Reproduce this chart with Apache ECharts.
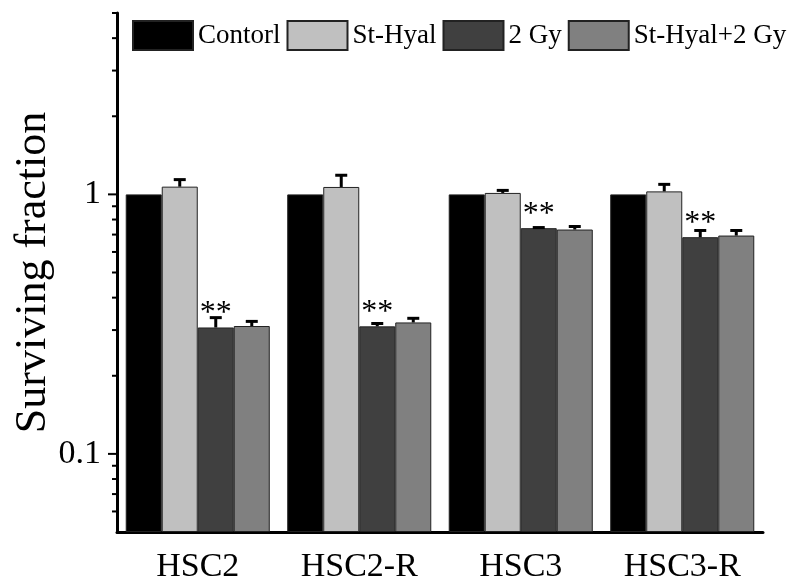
<!DOCTYPE html>
<html>
<head>
<meta charset="utf-8">
<script src="https://cdn.jsdelivr.net/npm/echarts@6/dist/echarts.min.js"></script>
<style>html,body{margin:0;padding:0;background:#fff}#c{width:791px;height:576px}</style>
</head>
<body>
<div id="c"></div>
<script>
const categories = ['HSC2', 'HSC2-R', 'HSC3', 'HSC3-R'];
const seriesNames = ['Contorl', 'St-Hyal', '2 Gy', 'St-Hyal+2 Gy'];
const control = [1, 1, 1, 1];
const stHyal = [1.071, 1.068, 1.013, 1.027];
const gy2 = [0.307, 0.310, 0.741, 0.684];
const stHyalGy2 = [0.311, 0.321, 0.732, 0.694];
const errControl = [0, 0, 0, 0];
const errStHyal = [0.069, 0.117, 0.023, 0.066];
const errGy2 = [0.028, 0.008, 0.004, 0.042];
const errStHyalGy2 = [0.013, 0.012, 0.020, 0.032];
const significance = ['**', '**', '**', '**'];
const yMajorTicks = [0.1, 1];
const yMinorTicks = [0.06, 0.07, 0.08, 0.09, 0.2, 0.3, 0.4, 0.5, 0.6, 0.7, 0.8, 0.9, 2, 3, 4, 5];
const yMin = 0.05, yMax = 5;

const FONT = "'Liberation Serif', 'Times New Roman', serif";
const colors = ['#000000', '#c0c0c0', '#404040', '#808080'];
const values = [control, stHyal, gy2, stHyalGy2];
const errors = [errControl, errStHyal, errGy2, errStHyalGy2];
const CAT_GAP = 0.108;

const errData = [];
values.forEach((arr, s) => arr.forEach((v, i) => {
  if (errors[s][i] > 0) errData.push([i, s, v, v + errors[s][i]]);
}));

const tickData = yMajorTicks.map(v => [0, v, 1]).concat(yMinorTicks.map(v => [0, v, 0]));

const barSeries = seriesNames.map((name, s) => ({
  name: name,
  type: 'bar',
  data: values[s],
  barGap: '0%',
  barCategoryGap: (CAT_GAP * 100) + '%',
  itemStyle: { color: colors[s], borderColor: '#222', borderWidth: 1 },
  label: s === 2 ? {
    show: true,
    position: 'top',
    distance: -2,
    formatter: p => significance[p.dataIndex],
    fontFamily: FONT,
    fontSize: 32,
    color: '#000'
  } : { show: false },
  z: 2
}));

const chart = echarts.init(document.getElementById('c'), null, { renderer: 'canvas' });
chart.setOption({
  animation: false,
  backgroundColor: '#fff',
  grid: { left: 117, right: 28, top: 13, bottom: 44, containLabel: false, outerBoundsMode: 'none' },
  legend: {
    data: seriesNames,
    left: 132,
    top: 20,
    right: 0,
    padding: 0,
    itemWidth: 60,
    itemHeight: 29,
    itemGap: 6,
    icon: 'rect',
    textStyle: { fontFamily: FONT, fontSize: 27, color: '#000' }
  },
  xAxis: {
    type: 'category',
    data: categories,
    axisLine: { lineStyle: { color: '#000', width: 3 } },
    axisTick: { alignWithLabel: true, length: 9, lineStyle: { color: '#000', width: 3 } },
    axisLabel: { fontFamily: FONT, fontSize: 34, color: '#000', margin: 18 },
    splitLine: { show: false }
  },
  yAxis: {
    type: 'log',
    logBase: 10,
    min: yMin,
    max: yMax,
    startValue: yMin,
    name: 'Surviving fraction',
    nameLocation: 'middle',
    nameGap: 62,
    nameMoveOverlap: false,
    nameTextStyle: { fontFamily: FONT, fontSize: 44, color: '#000' },
    axisLine: { show: true, lineStyle: { color: '#000', width: 3 } },
    axisTick: { show: false },
    splitLine: { show: false },
    minorTick: { show: false },
    axisLabel: {
      fontFamily: FONT, fontSize: 34, color: '#000', margin: 16,
      showMinLabel: false, showMaxLabel: false,
      formatter: v => {
        const m = yMajorTicks.find(t => Math.abs(t - v) / t < 1e-6);
        return m !== undefined ? String(m) : '';
      }
    }
  },
  series: barSeries.concat([
    {
      type: 'custom',
      name: 'errors',
      data: errData,
      encode: { x: 0, y: 3 },
      z: 5,
      clip: false,
      renderItem: (params, api) => {
        const cat = api.value(0), s = api.value(1), v = api.value(2), up = api.value(3);
        const p0 = api.coord([cat, v]);
        const p1 = api.coord([cat, up]);
        const band = api.coord([1, v])[0] - api.coord([0, v])[0];
        const bw = band * (1 - CAT_GAP) / 4;
        const cx = p0[0] + (s - 1.5) * bw;
        return {
          type: 'group',
          children: [
            { type: 'line', shape: { x1: cx, y1: p0[1], x2: cx, y2: p1[1] }, style: { stroke: '#000', lineWidth: 3 } },
            { type: 'line', shape: { x1: cx - 6, y1: p1[1], x2: cx + 6, y2: p1[1] }, style: { stroke: '#000', lineWidth: 3 } }
          ]
        };
      }
    },
    {
      type: 'custom',
      name: 'yticks',
      data: tickData,
      encode: { x: 0, y: 1 },
      z: 6,
      clip: false,
      silent: true,
      renderItem: (params, api) => {
        const y = api.coord([0, api.value(1)])[1];
        const x = params.coordSys.x;
        const len = api.value(2) ? 9 : 5;
        return { type: 'line', shape: { x1: x - len, y1: y, x2: x, y2: y }, style: { stroke: '#000', lineWidth: 2 } };
      }
    }
  ])
});
</script>
</body>
</html>
